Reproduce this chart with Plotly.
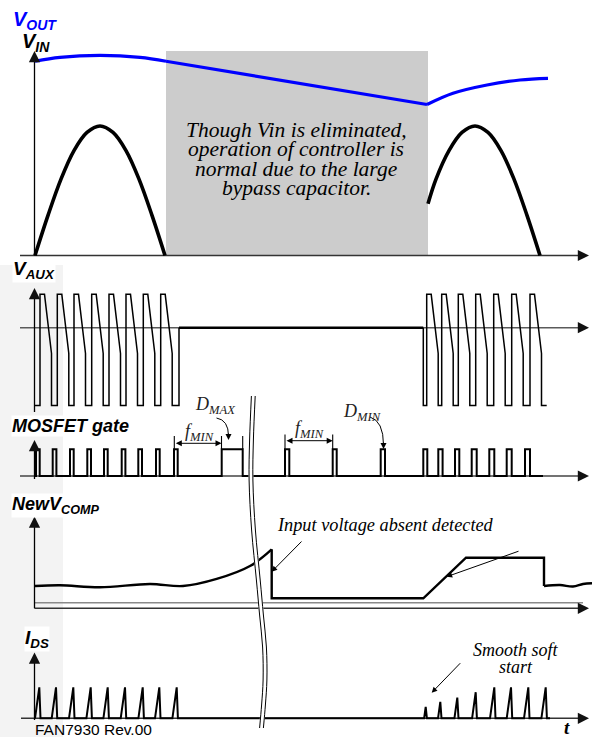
import plotly.graph_objects as go

# ---------------- waveform data (t: diagram time, 0 at the vertical axes) ----------------
# V_IN: rectified line voltage, normalised to its peak
vin_a_t = [0, 13, 26, 39, 52, 65, 78, 91, 104, 117, 130]
vin_a_v = [0, 0.31, 0.59, 0.81, 0.95, 1.0, 0.95, 0.81, 0.59, 0.31, 0]
vin_b_t = [393, 401, 414, 427, 440, 453, 466, 479, 492, 505]
vin_b_v = [0.40, 0.59, 0.81, 0.95, 1.0, 0.95, 0.81, 0.59, 0.31, 0]

# V_OUT on the same scale: normal ripple, hold-up decay, recovery
vout_a_t = [0, 25, 65, 105, 131]
vout_a_v = [1.50, 1.53, 1.545, 1.53, 1.50]
vout_b_t = [131, 392]
vout_b_v = [1.50, 1.166]
vout_c_t = [392, 418, 452, 485, 513]
vout_c_v = [1.166, 1.253, 1.317, 1.355, 1.368]

# interval in which V_IN is absent
vin_absent = [131, 393]
vin_absent_top = 1.58

# V_AUX: rising edges of the auxiliary-winding pulses in both switching bursts
vaux_rise_a = [5, 22.3, 39, 56.7, 74, 91, 108.3, 125.7]
vaux_rise_b = [391.7, 406.7, 423.3, 440.7, 458.7, 476.7, 495]
vaux_high, vaux_knee, vaux_low = 1.0, -0.77, -2.33
vaux_idle = [144, 388.3]
vaux_end = 511.7

# MOSFET gate: turn-on instants and on-widths
gate_on = [1, 17.7, 35, 52.3, 69, 86.7, 103.3, 121, 139,
           186.7, 250, 297.7, 345.7,
           388.3, 403.3, 420, 436.7, 454.3, 471.7, 490]
gate_width = [3.7, 3.7, 3.7, 3.7, 3.7, 3.7, 3.7, 3.7, 3.7,
              21, 4.3, 4, 4.3,
              4, 4.3, 4.3, 5, 5, 5, 5]
gate_end = 508

# NewV_COMP
comp_a_t = [0, 25, 65, 115, 148, 181.7, 215, 236.7]
comp_a_v = [0.44, 0.455, 0.415, 0.48, 0.44, 0.58, 0.835, 1.165]
comp_b_t = [236.7, 236.7, 388.3, 431, 509, 509]
comp_b_v = [1.165, 0.198, 0.198, 1.0, 1.0, 0.44]
comp_c_t = [509, 525, 538, 548, 557]
comp_c_v = [0.44, 0.46, 0.43, 0.48, 0.495]
comp_ref = 0.11

# I_DS: peak instants and peak current (soft start in the second burst)
ids_peak_t = [4.3, 21, 38.3, 55.7, 72.7, 90, 107.7, 124.3, 141.7,
              390.7, 405.3, 422.3, 440.7, 459.3, 476, 493.3, 510.7]
ids_peak = [1, 1, 1, 1, 1, 1, 1, 1, 1,
            0.37, 0.53, 0.67, 0.84, 1, 1, 1, 1]
ids_rise_per_unit = 4.3
ids_fall = 1.2
ids_end = 515

# ---------------- page geometry ----------------
W, H = 592, 737
X0 = 35    # pixel column of t = 0
AX = 34.5  # pixel column of the drawn vertical axes
# panel -> (baseline pixel row, pixels per unit); y axis runs in pixel rows
PANEL = {
    "vin": (255.5, 129.5),
    "vaux": (327.7, 33.4),
    "gate": (476.0, 26.7),
    "comp": (608.3, 50.6),
    "ids": (718.3, 31.0),
}
SANS = "Liberation Sans, Arial, sans-serif"
SERIF = "Liberation Serif, Times New Roman, serif"


def row(panel, values):
    base, scale = PANEL[panel]
    return [base - v * scale for v in values]


def col(px):
    return px - X0


fig = go.Figure()


def add(t, v, panel, width, color="black", shape="linear"):
    fig.add_trace(go.Scatter(
        x=t, y=row(panel, v), mode="lines",
        line=dict(color=color, width=width, shape=shape),
        hoverinfo="skip", showlegend=False))


# ---- V_IN / V_OUT ----
add(vin_a_t, vin_a_v, "vin", 3.6, shape="spline")
add(vin_b_t, vin_b_v, "vin", 3.6, shape="spline")
add(vout_a_t, vout_a_v, "vin", 3.2, "#0000ff", "spline")
add(vout_b_t, vout_b_v, "vin", 3.2, "#0000ff")
add(vout_c_t, vout_c_v, "vin", 3.2, "#0000ff", "spline")


# ---- V_AUX ----
def vaux_burst(rises):
    t, v = [], []
    for r in rises:
        t += [r, r, r + 4.5, r + 11.5, r + 11.5]
        v += [vaux_low, vaux_high, vaux_high, vaux_knee, vaux_low]
    return t, v


ta, va = vaux_burst(vaux_rise_a)
add([0] + ta + [vaux_idle[0], vaux_idle[0]], [vaux_low] + va + [vaux_low, 0], "vaux", 1.5)
add(vaux_idle, [0, 0], "vaux", 2.6)
tb, vb = vaux_burst(vaux_rise_b)
add([vaux_idle[1], vaux_idle[1]] + tb + [vaux_end], [0, vaux_low] + vb + [vaux_low], "vaux", 1.5)

# ---- MOSFET gate ----
gt, gv = [0], [0]
for on, w in zip(gate_on, gate_width):
    gt += [on, on, on + w, on + w]
    gv += [0, 1, 1, 0]
gt.append(gate_end)
gv.append(0)
add(gt, gv, "gate", 2)

# ---- NewV_COMP ----
add(comp_a_t, comp_a_v, "comp", 2.4, shape="spline")
add(comp_b_t, comp_b_v, "comp", 2.4)
add(comp_c_t, comp_c_v, "comp", 2.4, shape="spline")

# ---- I_DS ----
it, iv = [0], [0]
for p, h in zip(ids_peak_t, ids_peak):
    it += [p - ids_rise_per_unit * h, p, p + ids_fall]
    iv += [0, h, 0]
it.append(ids_end)
iv.append(0)
add(it, iv, "ids", 2)

# ---- axis break (two wavy lines with a white gap) ----
brk_x = [253.3, 251.5, 251, 253.5, 258.3, 261.5, 264.5, 265, 263.5, 261.5]
brk_y = [396, 440, 480, 530, 580, 615, 647, 680, 705, 728]
for dx, c, wd in [(0, "white", 5), (-1.9, "black", 1), (1.9, "black", 1)]:
    fig.add_trace(go.Scatter(
        x=[col(x + dx) for x in brk_x], y=brk_y, mode="lines",
        line=dict(color=c, width=wd, shape="spline"), hoverinfo="skip", showlegend=False))

# ---------------- shapes ----------------
shapes = []
# faint background watermark strip
shapes.append(dict(type="rect", xref="x", yref="y", x0=col(0), x1=col(63), y0=265, y1=H,
                   fillcolor="#f3f3f3", line_width=0, layer="below"))
# V_IN absent window
vb_base, vb_scale = PANEL["vin"]
shapes.append(dict(type="rect", xref="x", yref="y", x0=vin_absent[0], x1=vin_absent[1],
                   y0=vb_base, y1=vb_base - vin_absent_top * vb_scale,
                   fillcolor="#cccccc", line_width=0, layer="below"))


def hline(y, x0, x1, color="#333333", width=1.4, layer="below"):
    shapes.append(dict(type="line", xref="x", yref="y", x0=col(x0), x1=col(x1), y0=y, y1=y,
                       line=dict(color=color, width=width), layer=layer))


def vline(x, y0, y1, color="black", width=1.3, layer="below"):
    shapes.append(dict(type="line", xref="x", yref="y", x0=col(x), x1=col(x), y0=y0, y1=y1,
                       line=dict(color=color, width=width), layer=layer))


# axes
hline(PANEL["vin"][0], 20, 582)
vline(AX, 58, PANEL["vin"][0])
hline(PANEL["vaux"][0], 20, 582, color="#5a5a5a", width=1.6)
vline(AX, 294, 412)
hline(PANEL["gate"][0], 20, 582, color="#444444")
vline(AX, 446, 479)
hline(row("comp", [comp_ref])[0], AX, 583, color="#8a8a8a", width=1.3)
hline(PANEL["comp"][0], AX, 583)
vline(AX, 523, PANEL["comp"][0])
hline(PANEL["ids"][0], 21, 582)
vline(AX, 659, 720)

# dimension extension lines (f_MIN spans, D_MAX falling edge)
for x in (174.3, 221.5, 242.7):
    vline(x, 436, 449.3, width=1.1, layer="above")
for x in (285, 332.7):
    vline(x, 434.5, 449.3, width=1.1, layer="above")

# curved pointers to D_MAX and D_MIN
shapes.append(dict(type="path", xref="x", yref="y",
                   path="M %g,418 Q %g,420 %g,436" % (col(216.5), col(228.5), col(228.5)),
                   line=dict(color="black", width=1), layer="above"))
shapes.append(dict(type="path", xref="x", yref="y",
                   path="M %g,417 Q %g,421 %g,445" % (col(370), col(383.5), col(383.5)),
                   line=dict(color="black", width=1), layer="above"))

# ---------------- annotations ----------------
ann = []


def text(t, x, y, size, family=SANS, color="black", xanchor="left", bg=None):
    ann.append(dict(text=t, x=col(x), y=y, xref="x", yref="y", showarrow=False,
                    xanchor=xanchor, yanchor="middle", borderpad=0,
                    font=dict(family=family, size=size, color=color),
                    bgcolor=bg))


def arrow(x, y, ax, ay, width=1.0, size=1.0, color="black", side="end"):
    ann.append(dict(text="", x=col(x), y=y, ax=col(ax), ay=ay, xref="x", yref="y",
                    axref="x", ayref="y", showarrow=True, arrowhead=2,
                    startarrowhead=2, arrowsize=size, startarrowsize=size,
                    arrowwidth=width, arrowcolor=color, arrowside=side,
                    standoff=0, startstandoff=0))


# axis arrowheads
for (x, y, ax, ay) in [
    (AX, 51, AX, 60), (589, 255.5, 578, 255.5),
    (AX, 288, AX, 297), (589, 327.7, 578, 327.7),
    (AX, 440, AX, 449), (589, 476, 578, 476),
    (AX, 516.5, AX, 525.5), (589, 608.3, 578, 608.3),
    (AX, 652.5, AX, 661.5), (589, 718.3, 578, 718.3),
]:
    arrow(x, y, ax, ay, width=1.4, size=1.6, color="#111111")

# panel labels
text("<b><i>V<sub>OUT</sub></i></b>", 12, 20, 20, color="#0000ff")
text("<b><i>V<sub>IN</sub></i></b>", 21, 42, 20)
text("<b><i>V<sub>AUX</sub></i></b>", 12, 270, 19, bg="white")
text("<b><i>MOSFET gate</i></b>", 11, 426, 18, bg="white")
text("<b><i>NewV<sub>COMP</sub></i></b>", 11, 505, 18, bg="white")
text("<b><i>I<sub>DS</sub></i></b>", 24, 639, 19, bg="white")

# hold-up explanation
for i, line in enumerate(["Though Vin is eliminated,", "operation of controller is",
                          "normal due to the large", "bypass capacitor."]):
    text("<i>" + line + "</i>", 296, 130 + 19.4 * i, 21.5, family=SERIF, xanchor="center")

# gate timing marks
text("<i>D<sub>MAX</sub></i>", 215, 405, 18, family=SERIF, color="#222222", xanchor="center")
text("<i>f<sub>MIN</sub></i>", 199, 432, 18, family=SERIF, color="#222222", xanchor="center")
arrow(221.5, 443.3, 174.3, 443.3, width=1, size=1.2, side="end+start")
text("<i>f<sub>MIN</sub></i>", 309, 429, 18, family=SERIF, color="#222222", xanchor="center")
arrow(332.7, 440.7, 285, 440.7, width=1, size=1.2, side="end+start")
text("<i>D<sub>MIN</sub></i>", 361.5, 412, 18, family=SERIF, color="#222222", xanchor="center")
arrow(228.5, 440, 228.5, 432, width=1, size=1.2)
arrow(383.5, 449, 383.5, 441, width=1, size=1.2)

# V_COMP notes
text("<i>Input voltage absent detected</i>", 276, 525, 18.3, family=SERIF, bg="white")
arrow(271.7, 571.7, 303, 540, width=1, size=1.1)
arrow(446.7, 576.7, 520, 550.7, width=1, size=1.1)

# I_DS notes
text("<i>Smooth soft</i>", 516, 650, 18, family=SERIF, xanchor="center", bg="white")
text("<i>start</i>", 516, 667, 18, family=SERIF, xanchor="center", bg="white")
arrow(431.7, 692.7, 461.7, 661.7, width=1, size=1.1)

# footer
text("FAN7930 Rev.00", 34, 729, 15.5)
text("<b><i>t</i></b>", 567, 727, 19, family=SERIF, xanchor="center")

# ---------------- layout ----------------
fig.update_layout(
    width=W, height=H, margin=dict(l=0, r=0, t=0, b=0),
    paper_bgcolor="white", plot_bgcolor="white",
    xaxis=dict(range=[col(0), col(W)], visible=False, fixedrange=True),
    yaxis=dict(range=[H, 0], visible=False, fixedrange=True),
    shapes=shapes, annotations=ann, showlegend=False,
)

fig.write_html("out.html", config={"displayModeBar": False})
